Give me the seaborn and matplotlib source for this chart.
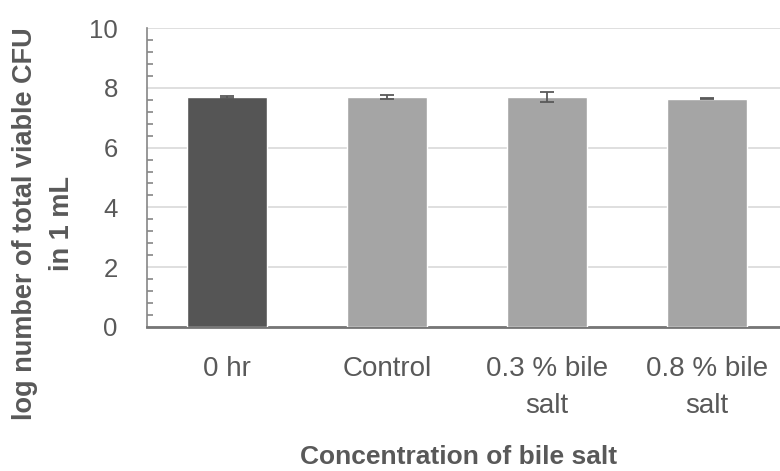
import matplotlib
matplotlib.use("Agg")
import matplotlib.pyplot as plt
import seaborn as sns
import pandas as pd
from matplotlib.ticker import MultipleLocator

# values
groups = ["0 hr", "Control", "0.3 % bile\nsalt", "0.8 % bile\nsalt"]
log_cfu = [7.68, 7.70, 7.69, 7.64]
err = [0.03, 0.07, 0.16, 0.01]
bar_colors = ["#555555", "#a5a5a5", "#a5a5a5", "#a5a5a5"]

df = pd.DataFrame({"group": groups, "cfu": log_cfu})

sns.set_style("white")
plt.rcParams["font.family"] = ["Liberation Sans", "DejaVu Sans"]

fig = plt.figure(figsize=(7.8, 4.71), dpi=100)
ax = fig.add_axes([147 / 780, 1 - 327 / 471, 640 / 780, 299 / 471])

sns.barplot(data=df, x="group", y="cfu", hue="group", palette=bar_colors,
            width=0.5, legend=False, ax=ax, zorder=3)

# error bars at the bar centres
for p, e in zip(ax.patches, err):
    cx = p.get_x() + p.get_width() / 2
    ax.errorbar(cx, p.get_height(), yerr=e, fmt="none", ecolor="#595959",
                elinewidth=1.3, capsize=5, capthick=1.3, zorder=4)

ax.set_xlim(-0.5, 3.5)
ax.set_ylim(0, 10)
ax.yaxis.set_major_locator(MultipleLocator(2))
ax.yaxis.set_minor_locator(MultipleLocator(0.4))
ax.grid(axis="y", which="major", color="#d9d9d9", linewidth=1.2, zorder=0)
ax.set_axisbelow(True)

for s in ["top", "right"]:
    ax.spines[s].set_visible(False)
ax.spines["left"].set_color("#868686")
ax.spines["left"].set_linewidth(1.2)
ax.spines["bottom"].set_color("#767676")
ax.spines["bottom"].set_linewidth(2)

ax.tick_params(axis="y", which="major", direction="inout", length=14,
               width=1.2, color="#868686", labelsize=18.5, labelcolor="#595959", pad=14)
ax.tick_params(axis="y", which="minor", direction="in", length=4.5,
               width=1.2, color="#868686", left=True)
ax.tick_params(axis="x", length=0, labelsize=20, labelcolor="#595959", pad=21)
for lbl in ax.get_xticklabels():
    lbl.set_linespacing(1.55)

ax.set_xlabel("Concentration of bile salt", fontsize=19, color="#595959",
              fontweight="bold", va="top")
ax.xaxis.set_label_coords(0.4875, -0.395)
ax.set_ylabel("log number of total viable CFU\nin 1 mL", fontsize=19.5,
              color="#595959", fontweight="bold", linespacing=1.55)
ax.yaxis.set_label_coords(-0.112, 0.345)

fig.savefig("out.png", dpi=100)
